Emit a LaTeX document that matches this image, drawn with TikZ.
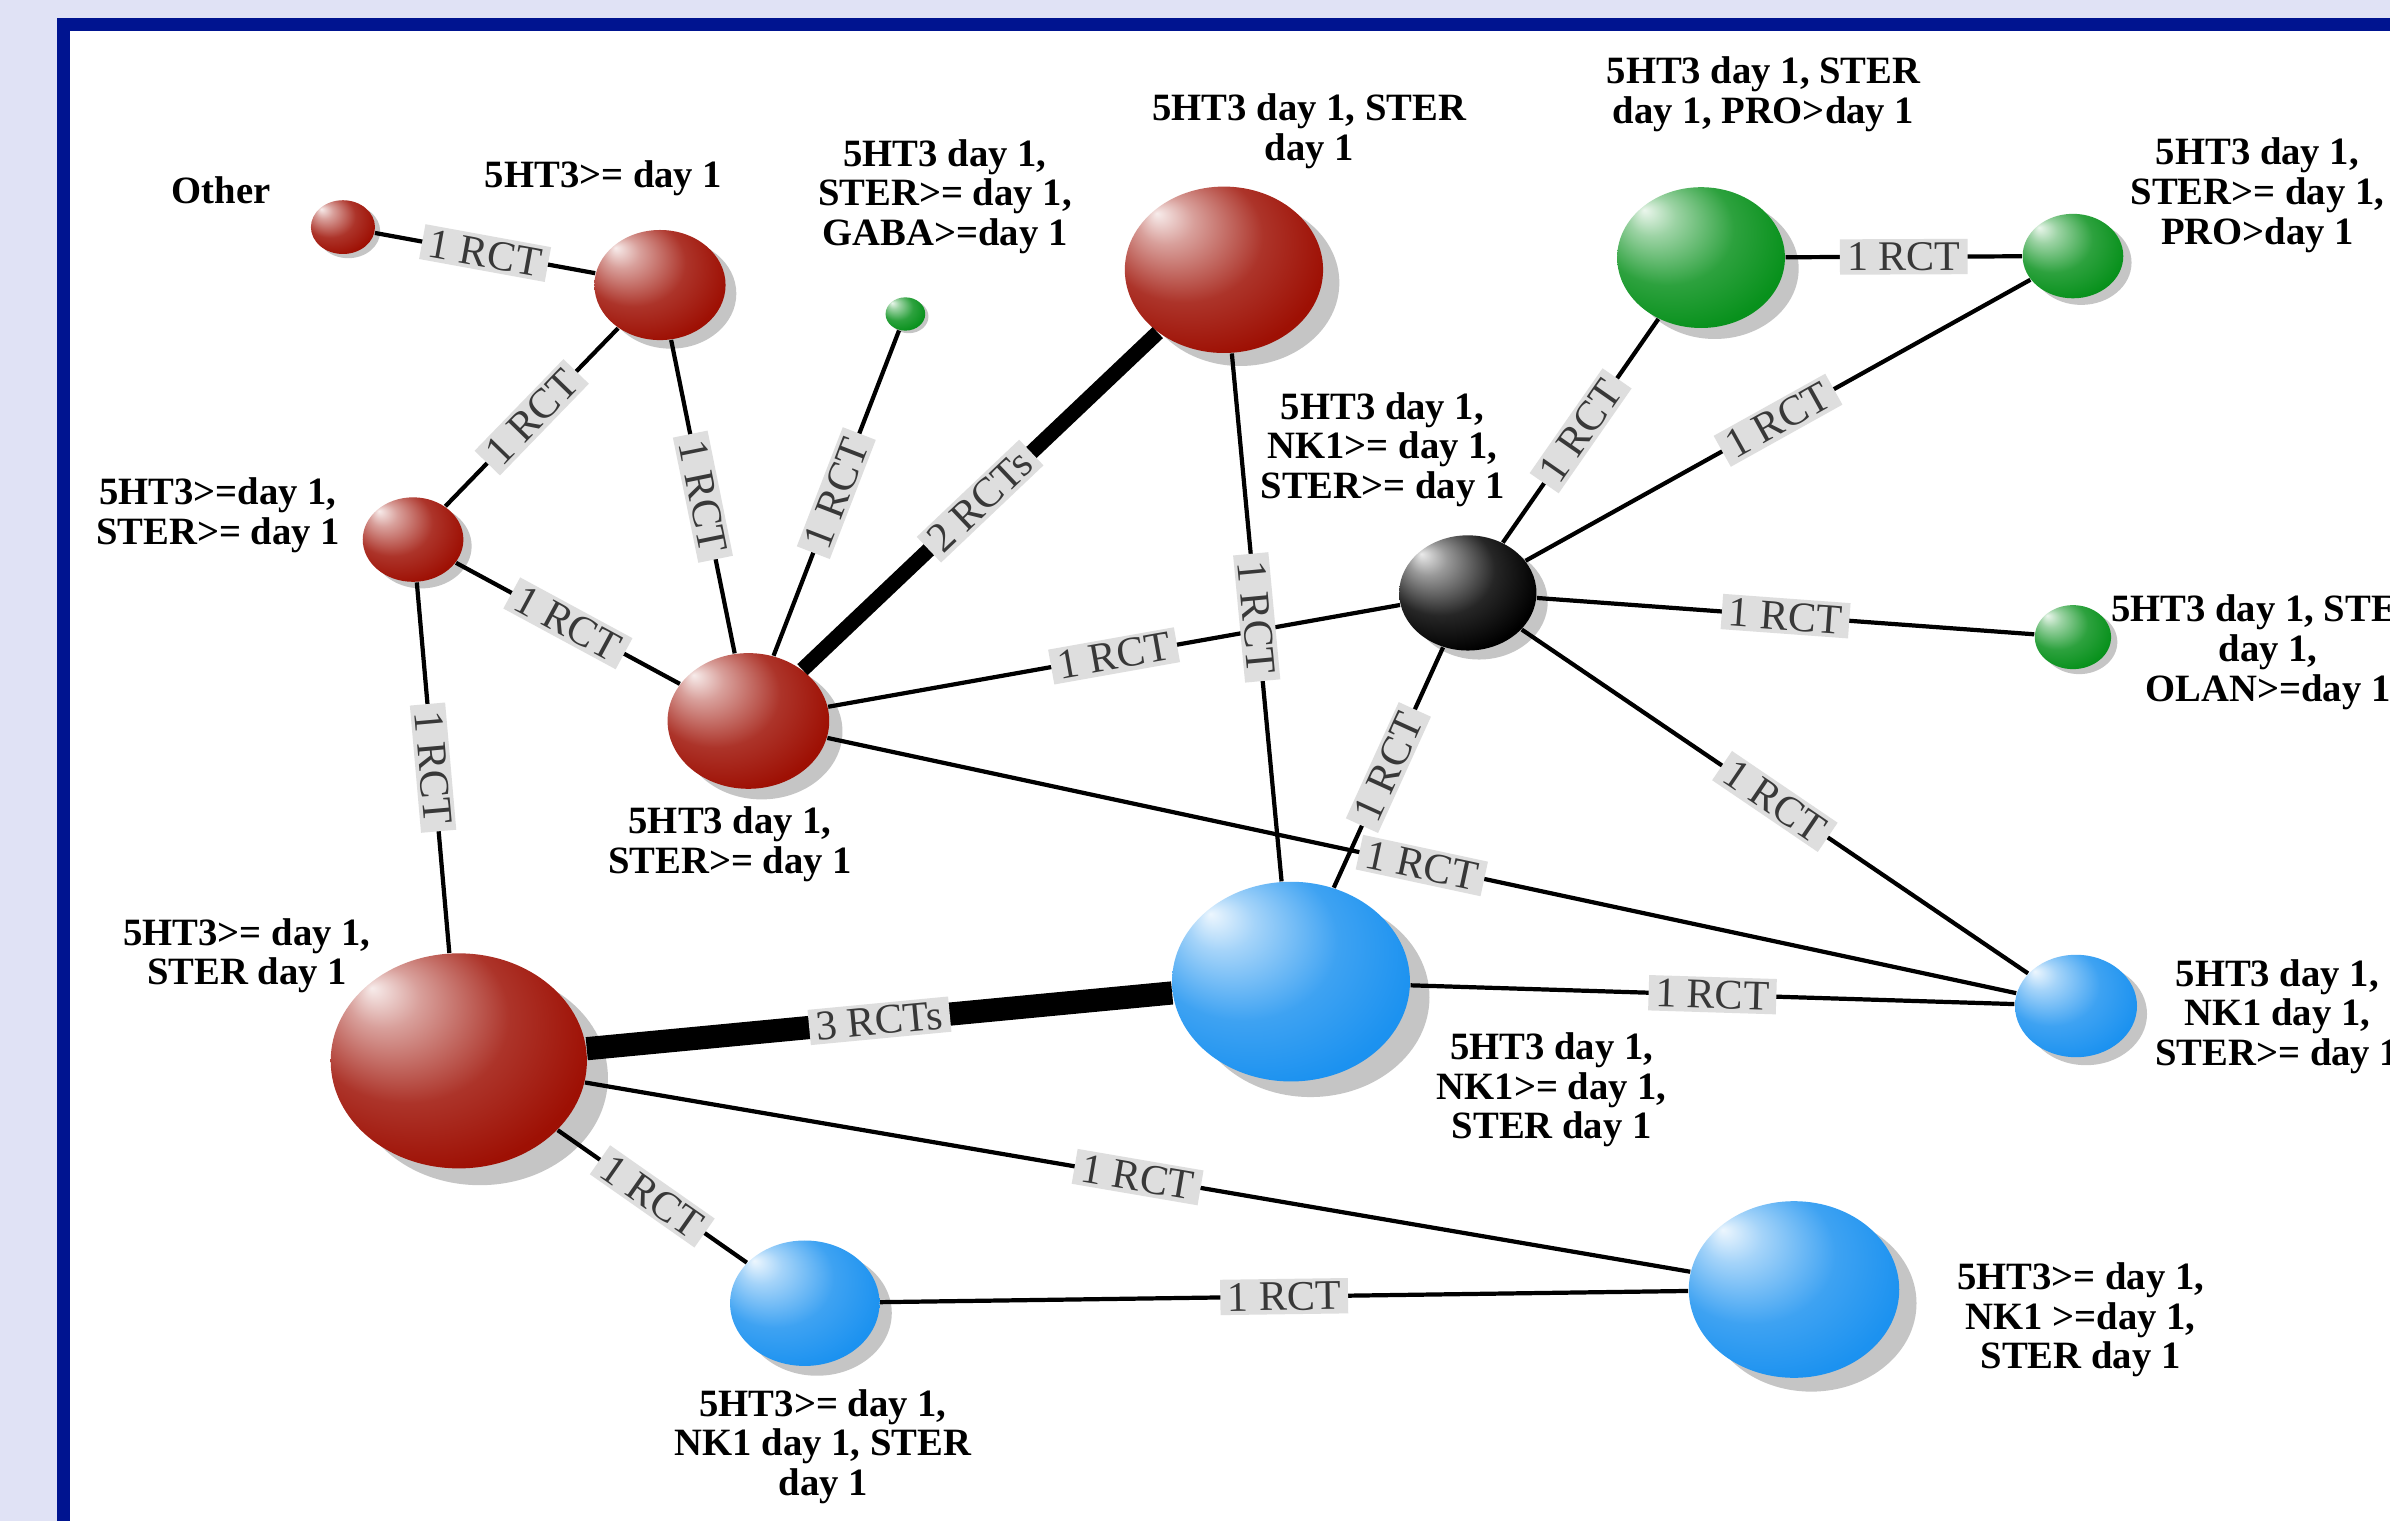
\documentclass[tikz,border=0pt]{standalone}
\usepackage{fontspec}
\setmainfont{Liberation Serif}
\usetikzlibrary{shapes.geometric}
\usetikzlibrary{shadows}
\definecolor{framebg}{RGB}{224,226,245}
\definecolor{frameblue}{RGB}{0,20,144}
\definecolor{ballred}{RGB}{158,16,4}
\definecolor{ballgreen}{RGB}{8,145,28}
\definecolor{ballblue}{RGB}{28,146,240}
\makeatletter
\pgfdeclareradialshading[tikz@ball]{glossy}{\pgfqpoint{-17bp}{17bp}}{%
 color(0bp)=(tikz@ball!8!white);
 color(7bp)=(tikz@ball!40!white);
 color(20bp)=(tikz@ball!85!white);
 color(32bp)=(tikz@ball);
 color(50bp)=(tikz@ball!90!black)}
\makeatother
\tikzset{
sphere/.style={ % size is the half width in px
ellipse, inner sep=0pt,
minimum width={#1*0.0305cm}, minimum height={#1*0.0256cm},
drop shadow={shadow xshift={#1*0.0025cm}, shadow yshift={-#1*0.002cm}, opacity=.45}},
redball/.style={ball color=ballred, shading=glossy},
greenball/.style={ball color=ballgreen, shading=glossy},
blueball/.style={ball color=ballblue, shading=glossy},
blackball/.style={ball color=black, shading=glossy},
lbl/.style={font=\bfseries\fontsize{11}{11.3}\selectfont, align=center, inner sep=0pt},
rct1/.style={draw, line width=1.2pt},
rct2/.style={draw, line width=4.3pt},
rct3/.style={draw, line width=6.6pt},
rct/.style={ % label on a connection
midway, sloped, fill=black!13, text=black!78,
font=\fontsize{12}{12}\selectfont, inner xsep=2pt, inner ysep=1pt}}

\begin{document}
\begin{tikzpicture}[x=0.015242cm, y=-0.015242cm]
	\useasboundingbox (0,0) rectangle (1568,998);
	\fill[framebg] (0,0) rectangle (1568,998);
	\fill[frameblue] (37.4,11.8) rectangle (1568,998);
	\fill[white] (45.9,20.3) rectangle (1568,998);
	% treatments
	\node[sphere=21, redball] (t1) at (225,149) {};
	\node[sphere=43, redball] (t2) at (433,187) {};
	\node[sphere=33, redball] (t3) at (271,354) {};
	\node[sphere=53, redball] (t4) at (491,473) {};
	\node[sphere=13, greenball] (t5) at (594,206) {};
	\node[sphere=65, redball] (t6) at (803,177) {};
	\node[sphere=55, greenball] (t7) at (1116,169) {};
	\node[sphere=33, greenball] (t8) at (1360,168) {};
	\node[sphere=45, blackball] (t9) at (963,389) {};
	\node[sphere=25, greenball] (t10) at (1360,418) {};
	\node[sphere=78, blueball] (t11) at (847,644) {};
	\node[sphere=40, blueball] (t12) at (1362,660) {};
	\node[sphere=84, redball] (t13) at (301,696) {};
	\node[sphere=49, blueball] (t14) at (528,855) {};
	\node[sphere=69, blueball] (t15) at (1177,846) {};
	% names
	\node[lbl] (l1) at (145,125) {Other};
	\node[lbl] (l2) at (396,117) {5HT3>= day 1};
	\node[lbl] (l3) at (143,338) {5HT3>=day 1,\\STER>= day 1};
	\node[lbl] (l4) at (479,554) {5HT3 day 1,\\STER>= day 1};
	\node[lbl] (l5) at (620,129) {5HT3 day 1,\\STER>= day 1,\\GABA>=day 1};
	\node[lbl] (l6) at (859,86) {5HT3 day 1, STER\\day 1};
	\node[lbl] (l7) at (1157,62) {5HT3 day 1, STER\\day 1, PRO>day 1};
	\node[lbl] (l8) at (1481,128) {5HT3 day 1,\\STER>= day 1,\\PRO>day 1};
	\node[lbl] (l9) at (907,295) {5HT3 day 1,\\NK1>= day 1,\\STER>= day 1};
	\node[lbl] (l10) at (1488,428) {5HT3 day 1, STER\\day 1,\\OLAN>=day 1};
	\node[lbl] (l11) at (1018,715) {5HT3 day 1,\\NK1>= day 1,\\STER day 1};
	\node[lbl] (l12) at (1494,667) {5HT3 day 1,\\NK1 day 1,\\STER>= day 1};
	\node[lbl] (l13) at (162,627) {5HT3>= day 1,\\STER day 1};
	\node[lbl] (l14) at (540,949) {5HT3>= day 1,\\NK1 day 1, STER\\day 1};
	\node[lbl] (l15) at (1365,866) {5HT3>= day 1,\\NK1 >=day 1,\\STER day 1};
	% trials
	\draw[rct1] (t1) -- node[rct] {1 RCT} (t2);
	\draw[rct1] (t2) -- node[rct] {1 RCT} (t3);
	\draw[rct1] (t2) -- node[rct] {1 RCT} (t4);
	\draw[rct1] (t3) -- node[rct] {1 RCT} (t4);
	\draw[rct1] (t3) -- node[rct] {1 RCT} (t13);
	\draw[rct1] (t4) -- node[rct] {1 RCT} (t5);
	\draw[rct2] (t4) -- node[rct] {2 RCTs} (t6);
	\draw[rct1] (t4) -- node[rct] {1 RCT} (t9);
	\draw[rct1] (t4) -- node[rct] {1 RCT} (t12);
	\draw[rct1] (t6) -- node[rct] {1 RCT} (t11);
	\draw[rct1] (t9) -- node[rct] {1 RCT} (t7);
	\draw[rct1] (t9) -- node[rct] {1 RCT} (t8);
	\draw[rct1] (t7) -- node[rct] {1 RCT} (t8);
	\draw[rct1] (t9) -- node[rct] {1 RCT} (t10);
	\draw[rct1] (t9) -- node[rct] {1 RCT} (t11);
	\draw[rct1] (t9) -- node[rct] {1 RCT} (t12);
	\draw[rct1] (t11) -- node[rct] {1 RCT} (t12);
	\draw[rct3] (t13) -- node[rct] {3 RCTs} (t11);
	\draw[rct1] (t13) -- node[rct] {1 RCT} (t15);
	\draw[rct1] (t13) -- node[rct] {1 RCT} (t14);
	\draw[rct1] (t14) -- node[rct] {1 RCT} (t15);
\end{tikzpicture}
\end{document}
